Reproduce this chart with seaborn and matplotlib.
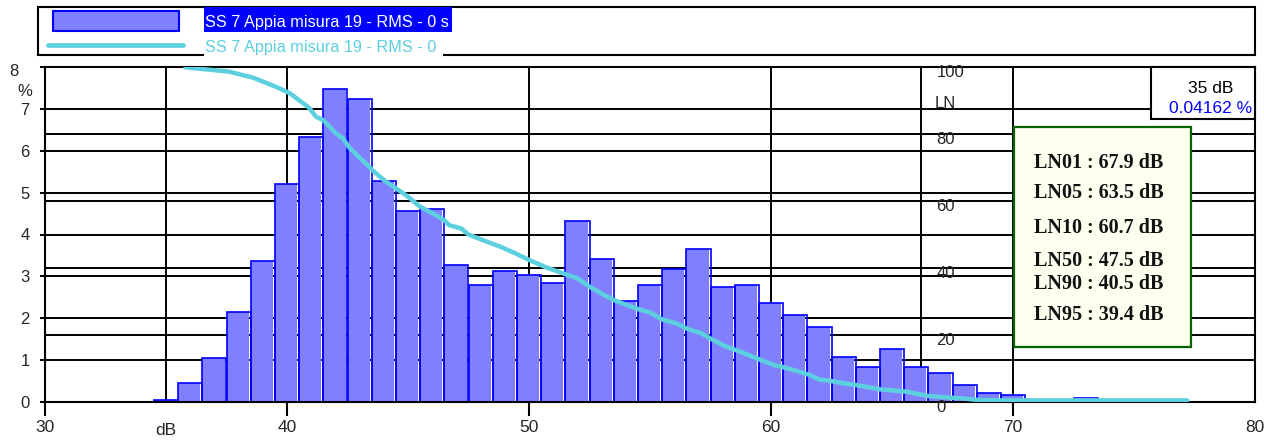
import numpy as np
import matplotlib
matplotlib.use("Agg")
import matplotlib.pyplot as plt
from matplotlib.patches import Rectangle
from matplotlib.lines import Line2D
from matplotlib.transforms import ScaledTranslation
import seaborn as sns

# Level distribution (1 dB classes) in % of measurement time
BAR_DB = [35, 36, 37, 38, 39, 40, 41, 42, 43, 44, 45, 46, 47, 48, 49, 50, 51, 52,
          53, 54, 55, 56, 57, 58, 59, 60, 61, 62, 63, 64, 65, 66, 67, 68, 69, 70,
          71, 72, 73]
BAR_PCT = [0.04162, 0.44, 1.05, 2.15, 3.36, 5.22, 6.33, 7.47, 7.23, 5.27, 4.56, 4.60,
           3.26, 2.78, 3.12, 3.02, 2.83, 4.32, 3.41, 2.41, 2.78, 3.17, 3.65, 2.74,
           2.78, 2.35, 2.07, 1.78, 1.06, 0.82, 1.25, 0.82, 0.68, 0.39, 0.20, 0.15,
           0.0, 0.02, 0.10]

# Cumulative exceedance curve (LN), % of time the level is exceeded
LN_DB = [35.8, 37.6, 38.6, 39.6, 40.1, 40.4, 40.9, 41.2, 41.5, 42.0, 42.3, 42.6,
         43.1, 43.6, 44.0, 44.6, 45.0, 45.5, 45.9, 46.5, 46.7, 47.2, 47.5, 48.2,
         48.8, 49.4, 50.0, 50.7, 51.4, 52.0, 52.5, 53.1, 53.5, 54.5, 55.0, 55.5,
         56.1, 56.5, 57.1, 57.6, 58.1, 58.6, 59.4, 60.1, 60.7, 61.6, 62.0, 62.4,
         63.0, 63.5, 64.5, 65.6, 66.5, 67.4, 67.9, 68.4, 69.5, 77.2]
LN_PCT = [100, 98.7, 96.9, 94.0, 92.3, 90.7, 88.0, 85.2, 84.2, 80.4, 78.8, 75.8,
          72.3, 68.8, 66.3, 63.3, 61.3, 58.3, 56.8, 54.3, 52.8, 51.8, 50.0, 48.0,
          46.4, 44.5, 42.4, 40.2, 38.4, 36.9, 34.4, 31.9, 30.4, 27.7, 26.7, 24.6,
          23.4, 21.9, 20.5, 18.5, 16.6, 15.3, 13.0, 11.0, 10.0, 8.0, 6.6, 6.3,
          5.5, 5.0, 3.7, 3.0, 1.7, 1.2, 1.0, 0.6, 0.4, 0.4]

# Statistical levels
LN_NAMES = ["LN01", "LN05", "LN10", "LN50", "LN90", "LN95"]
LN_LEVELS = [67.9, 63.5, 60.7, 47.5, 40.5, 39.4]

# Axes ticks
X_TICKS = [30, 40, 50, 60, 70, 80]
X_GRID = [35, 40, 50, 60, 70]
PCT_TICKS = [0, 1, 2, 3, 4, 5, 6, 7, 8]
LN_TICKS = [0, 20, 40, 60, 80, 100]
LN_AXIS_DB = 66.2

SERIES_NAME = "SS 7 Appia misura 19 - RMS - 0 s"
CURVE_NAME = "SS 7 Appia misura 19 - RMS - 0"
CURSOR_DB = 35
CURSOR_PCT = 0.04162

BAR_FILL = "#8080FF"
BAR_EDGE = "#0000FF"
CURVE_COLOR = "#5CD0DE"

sns.set_style("white")
plt.rcParams["font.family"] = ["Liberation Sans", "DejaVu Sans"]

W, H = 1264, 443
fig = plt.figure(figsize=(W / 100, H / 100), dpi=100)


def fx(px):
    return px / W


def fy(py):
    return 1 - py / H


ax_l, ax_r, ax_t, ax_b = 45, 1255, 67.3, 401.7
ax = fig.add_axes([fx(ax_l), fy(ax_b), (ax_r - ax_l) / W, (ax_b - ax_t) / H])

# grid lines (behind bars)
for v in PCT_TICKS[1:-1]:
    ax.axhline(v, color="black", lw=1.4, zorder=0.5)
for t in LN_TICKS[1:-1]:
    ax.axhline(t * PCT_TICKS[-1] / LN_TICKS[-1], color="black", lw=1.4, zorder=0.5)
for v in X_GRID:
    ax.axvline(v, color="black", lw=1.4, zorder=0.5)
ax.axvline(LN_AXIS_DB, color="black", lw=1.4, zorder=0.5)

# histogram: fill layer then outline layer
sns.barplot(x=BAR_DB, y=BAR_PCT, native_scale=True, width=1.0, color=BAR_FILL,
            saturation=1, errorbar=None, ax=ax, linewidth=0)
n_fill = len(ax.patches)
for p in ax.patches:
    p.set_width(0.92)
    p.set_zorder(2)
sns.barplot(x=BAR_DB, y=BAR_PCT, native_scale=True, width=1.0, color=BAR_FILL,
            saturation=1, errorbar=None, ax=ax)
for p in ax.patches[n_fill:]:
    p.set_facecolor("none")
    p.set_edgecolor(BAR_EDGE)
    p.set_linewidth(1.2)
    p.set_zorder(2.1)

ax.set_xlim(30, 80)
ax.set_ylim(0, 8)
ax.set_xlabel("")
ax.set_ylabel("")
ax.set_xticks(X_TICKS)
ax.set_xticklabels([str(t) for t in X_TICKS])
ax.set_yticks(PCT_TICKS)
ax.set_yticklabels([str(t) for t in PCT_TICKS])
ax.tick_params(axis="x", direction="out", length=10, width=1.5, color="black",
               pad=3, labelsize=12.5, bottom=True)
ax.tick_params(axis="y", direction="out", length=3.6, width=1.4, color="black",
               pad=7.5, labelsize=12, left=True)
ax.xaxis.get_major_ticks()[-1].tick1line.set_visible(False)
for s in ax.spines.values():
    s.set_color("black")
    s.set_linewidth(1.5)
    s.set_zorder(3)

# top tick label sits a bit lower and to the left
top_lab = ax.get_yticklabels()[-1]
top_lab.set_transform(top_lab.get_transform() +
                      ScaledTranslation(-11 / 100, -3 / 100, fig.dpi_scale_trans))

ax.annotate("dB", xy=(CURSOR_DB, 0), xycoords=("data", "axes fraction"),
            xytext=(0, -24), textcoords="offset points", ha="center",
            va="baseline", fontsize=12.5)

# cumulative curve on secondary scale
ax2 = ax.twinx()
sns.lineplot(x=LN_DB, y=LN_PCT, ax=ax2, color=CURVE_COLOR, lw=3.2,
             solid_capstyle="round", zorder=4)
ax2.set_ylim(0, 100)
ax2.set_xlim(30, 80)
ax2.set_ylabel("")
ax2.set_yticks(LN_TICKS)
ax2.set_yticklabels([str(t) for t in LN_TICKS])
ax2.spines["right"].set_position(("data", LN_AXIS_DB))
for s in ax2.spines.values():
    s.set_visible(False)
ax2.tick_params(axis="y", length=0, pad=11, labelsize=12, right=True)
for lab in ax2.get_yticklabels():
    lab.set_transform(lab.get_transform() +
                      ScaledTranslation(0, -4 / 100, fig.dpi_scale_trans))

fig.text(fx(25), fy(91.5), "%", ha="center", va="center", fontsize=12)
fig.text(fx(935), fy(108), "LN", ha="left", va="baseline", fontsize=12)

# legend block
fig.patches.append(Rectangle((fx(38), fy(55)), (1255 - 38) / W, 48 / H,
                             transform=fig.transFigure, facecolor="white",
                             edgecolor="black", lw=1.5, zorder=5))
fig.patches.append(Rectangle((fx(52.7), fy(30.7)), (179 - 52.7) / W, 20 / H,
                             transform=fig.transFigure, facecolor=BAR_FILL,
                             edgecolor=BAR_EDGE, lw=1.5, zorder=6))
fig.patches.append(Rectangle((fx(204), fy(31.7)), 248 / W, 24.4 / H,
                             transform=fig.transFigure, facecolor=BAR_EDGE,
                             edgecolor="none", zorder=6))
fig.text(fx(205), fy(27.3), SERIES_NAME, color="white", fontsize=11.7,
         ha="left", va="baseline", zorder=7)
fig.lines.append(Line2D([fx(48), fx(183)], [fy(45), fy(45)],
                        transform=fig.transFigure, color=CURVE_COLOR, lw=3.4,
                        solid_capstyle="round", zorder=6))
fig.patches.append(Rectangle((fx(204), fy(57.5)), 239 / W, 24.5 / H,
                             transform=fig.transFigure, facecolor="white",
                             edgecolor="none", zorder=6))
fig.text(fx(205), fy(51.7), CURVE_NAME, color=CURVE_COLOR, fontsize=11.7,
         ha="left", va="baseline", zorder=7)

# cursor readout
fig.patches.append(Rectangle((fx(1150.7), fy(119.3)), (1255 - 1150.7) / W,
                             (119.3 - 67.3) / H, transform=fig.transFigure,
                             facecolor="white", edgecolor="black", lw=1.5,
                             zorder=5))
fig.text(fx(1210.7), fy(93), f"{CURSOR_DB} dB", color="black", fontsize=12.5,
         ha="center", va="baseline", zorder=7)
fig.text(fx(1210.7), fy(113), f"{CURSOR_PCT} %", color=BAR_EDGE, fontsize=12.5,
         ha="center", va="baseline", zorder=7)

# statistical levels box
fig.patches.append(Rectangle((fx(1014.3), fy(347.3)), (1191 - 1014.3) / W,
                             (347.3 - 127.3) / H, transform=fig.transFigure,
                             facecolor="#FFFFF0", edgecolor="#006400", lw=1.6,
                             zorder=5))
LN_BASELINES = [168, 198, 233, 266, 289, 320]
for name, lev, yb in zip(LN_NAMES, LN_LEVELS, LN_BASELINES):
    fig.text(fx(1098.5), fy(yb), f"{name} : {lev} dB", fontsize=14.5,
             fontweight="bold", family=["Liberation Serif", "DejaVu Serif"],
             ha="center", va="baseline", color="#111111", zorder=7)

fig.savefig("out.png", dpi=100)
